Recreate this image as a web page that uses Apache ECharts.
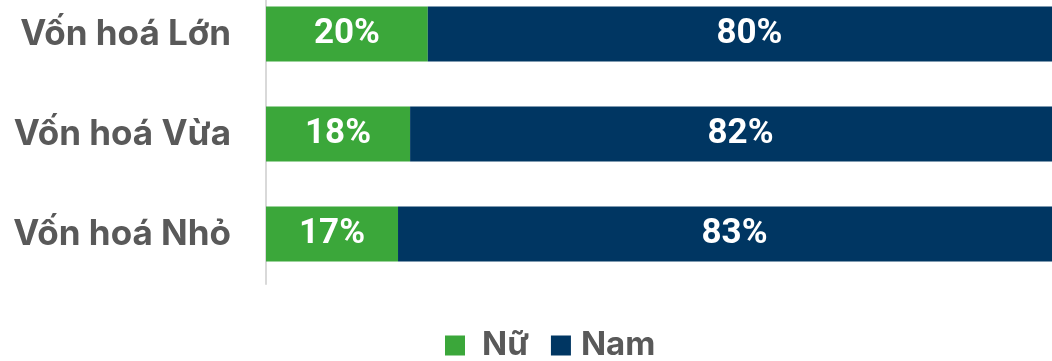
<!DOCTYPE html>
<html>
<head>
<meta charset="utf-8">
<script src="https://cdn.jsdelivr.net/npm/echarts@6/dist/echarts.min.js"></script>
<style>
  html, body { margin:0; padding:0; background:#fff; }
  #chart { width:1052px; height:361px; }
</style>
</head>
<body>
<div id="chart"></div>
<script>
// data (the bars run past the right edge of the image)
var categories = ['Vốn hoá Lớn', 'Vốn hoá Vừa', 'Vốn hoá Nhỏ'];
var nuValues = [20.1, 17.9, 16.4];
var namValues = [79.9, 82.1, 83.6];
var nuLabels = ['20%', '18%', '17%'];
var namLabels = ['80%', '82%', '83%'];

var chart = echarts.init(document.getElementById('chart'));

var labelStyle = {
  show: true,
  position: 'inside',
  color: '#fff',
  fontFamily: 'Roboto',
  fontWeight: 'bold',
  fontSize: 35
};

var option = {
  animation: false,
  textStyle: { fontFamily: 'Roboto' },
  legend: {
    top: 324,
    left: 440,
    itemWidth: 20,
    itemHeight: 20,
    itemGap: 22,
    icon: 'rect',
    textStyle: {
      color: '#595959', fontSize: 33, fontWeight: 'bold', fontFamily: 'Inter',
      lineHeight: 30, padding: [0, 0, 0, 12]
    },
    data: [
      { name: 'Nữ' },
      { name: 'Nam', textStyle: { padding: [0, 0, 0, 5] } }
    ]
  },
  grid: {
    left: 266,
    width: 805,
    top: -16,
    height: 300,
    outerBoundsMode: 'none'
  },
  xAxis: {
    type: 'value',
    min: 0,
    max: 100,
    show: false
  },
  yAxis: {
    type: 'category',
    inverse: true,
    data: categories,
    axisLine: { show: true, lineStyle: { color: '#d9d9d9', width: 2 } },
    axisTick: { show: false },
    axisLabel: {
      color: '#595959',
      fontSize: 35,
      fontWeight: 'bold',
      fontFamily: 'Inter',
      margin: 35
    }
  },
  series: [{
    name: 'Nữ',
    type: 'bar',
    stack: 'total',
    barWidth: 55,
    itemStyle: { color: '#3ba73a' },
    label: Object.assign({}, labelStyle, {
      formatter: function (p) { return nuLabels[p.dataIndex]; }
    }),
    data: nuValues
  }, {
    name: 'Nam',
    type: 'bar',
    stack: 'total',
    barWidth: 55,
    itemStyle: { color: '#003662' },
    label: Object.assign({}, labelStyle, {
      formatter: function (p) { return namLabels[p.dataIndex]; }
    }),
    data: namValues
  }]
};

chart.setOption(option);
</script>
</body>
</html>
